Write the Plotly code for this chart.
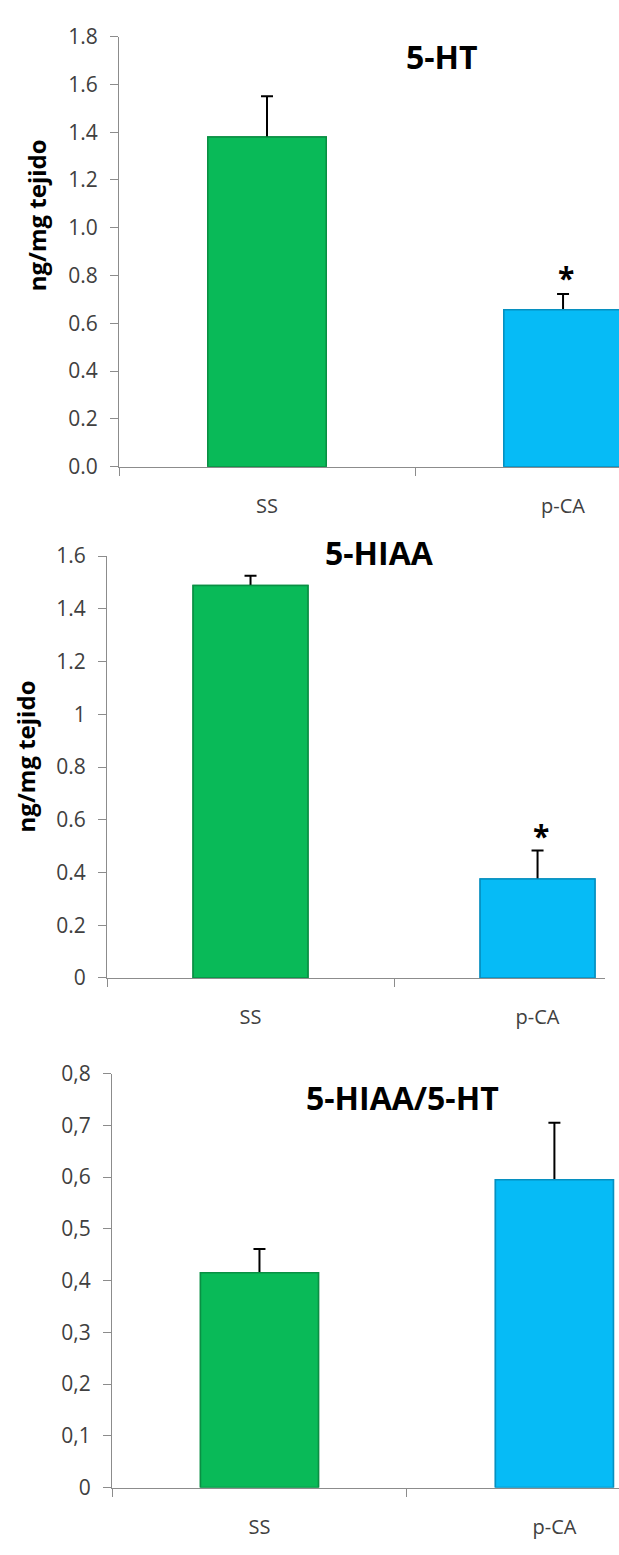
import plotly.graph_objects as go

# Group labels
categories = ["SS", "p-CA"]

# 5-HT content (ng/mg tejido): mean and upper SEM
ht_mean = [1.38, 0.657]
ht_err = [0.17, 0.066]

# 5-HIAA content (ng/mg tejido)
hiaa_mean = [1.488, 0.375]
hiaa_err = [0.037, 0.108]

# 5-HIAA/5-HT ratio
ratio_mean = [0.415, 0.595]
ratio_err = [0.046, 0.11]

# Significance marks per group (empty = none)
ht_sig = ["", "*"]
hiaa_sig = ["", "*"]
ratio_sig = ["", ""]

# Y tick values
ht_ticks = [0.0, 0.2, 0.4, 0.6, 0.8, 1.0, 1.2, 1.4, 1.6, 1.8]
hiaa_ticks = [0, 0.2, 0.4, 0.6, 0.8, 1, 1.2, 1.4, 1.6]
ratio_ticks = [0, 0.1, 0.2, 0.3, 0.4, 0.5, 0.6, 0.7, 0.8]

W, H = 619, 1555
GREEN = "#09BA58"
BLUE = "#06BBF6"
GREEN_EDGE = "#0A8F43"
BLUE_EDGE = "#0690C0"
AXIS_GREY = "#8C8C8C"
FONT = "Open Sans"
TICK_FONT = dict(family=FONT, size=21, color="#404040")

panels = [
    dict(mean=ht_mean, err=ht_err, sig=ht_sig, ticks=ht_ticks,
         ticktext=[f"{v:.1f}" for v in ht_ticks],
         left=119, right=619, top=22, bottom=460, xmax=1.189,
         title="5-HT", tx=442, ty=42, ylab="ng/mg tejido", lx=36, ly=204,
         sigshift=0),
    dict(mean=hiaa_mean, err=hiaa_err, sig=hiaa_sig, ticks=hiaa_ticks,
         ticktext=[f"{v:g}" for v in hiaa_ticks],
         left=107, right=605, top=551, bottom=980.6, xmax=1.235,
         title="5-HIAA", tx=380, ty=547, ylab="ng/mg tejido", lx=25, ly=755,
         sigshift=-1),
    dict(mean=ratio_mean, err=ratio_err, sig=ratio_sig, ticks=ratio_ticks,
         ticktext=[f"{v:g}".replace(".", ",") for v in ratio_ticks],
         left=112, right=619, top=1078, bottom=1499.6, xmax=1.219,
         title="5-HIAA/5-HT", tx=402, ty=1102, ylab=None, lx=0, ly=0,
         sigshift=0),
]

fig = go.Figure()
annotations = []

for i, p in enumerate(panels, start=1):
    xa = "x" if i == 1 else f"x{i}"
    ya = "y" if i == 1 else f"y{i}"
    bar_style = dict(
        x=categories, y=p["mean"], width=0.4,
        marker=dict(color=[GREEN, BLUE],
                    line=dict(color=[GREEN_EDGE, BLUE_EDGE], width=1.5)),
        xaxis=xa, yaxis=ya, showlegend=False, hoverinfo="skip",
    )
    # bars carrying the SEM whiskers
    fig.add_trace(go.Bar(
        **bar_style,
        error_y=dict(type="data", array=p["err"], color="black",
                     thickness=2, width=6),
    ))
    # same bars again on top, so only the upper whisker shows
    fig.add_trace(go.Bar(**bar_style))

    ymax = p["ticks"][-1]
    xdom = [p["left"] / W, p["right"] / W]
    ydom = [1 - p["bottom"] / H, 1 - p["top"] / H]
    xkey = "xaxis" if i == 1 else f"xaxis{i}"
    ykey = "yaxis" if i == 1 else f"yaxis{i}"
    fig.update_layout(**{
        xkey: dict(domain=xdom, anchor=ya, type="category",
                   range=[-0.5, p["xmax"]], tickson="boundaries",
                   ticks="outside", ticklen=8, tickcolor=AXIS_GREY,
                   showline=True, linecolor=AXIS_GREY, linewidth=1,
                   showgrid=False, zeroline=False,
                   tickfont=dict(family=FONT, size=20, color="#404040"),
                   ticklabelstandoff=21),
        ykey: dict(domain=ydom, anchor=xa, range=[0, ymax],
                   tickmode="array", tickvals=p["ticks"], ticktext=p["ticktext"],
                   ticks="outside", ticklen=8, tickcolor=AXIS_GREY,
                   showline=True, linecolor=AXIS_GREY, linewidth=1,
                   showgrid=False, zeroline=False, tickfont=TICK_FONT,
                   ticklabelstandoff=8),
    })
    # panel title
    annotations.append(dict(
        text=f"<b>{p['title']}</b>", x=p["tx"] / W, y=1 - p["ty"] / H,
        xref="paper", yref="paper", showarrow=False,
        xanchor="center", yanchor="middle",
        font=dict(family=FONT, size=32, color="black")))
    # y axis label
    if p["ylab"]:
        annotations.append(dict(
            text=f"<b>{p['ylab']}</b>", x=p["lx"] / W, y=1 - p["ly"] / H,
            xref="paper", yref="paper", showarrow=False, textangle=-90,
            xanchor="center", yanchor="middle",
            font=dict(family=FONT, size=24, color="black")))
    # significance marks above error bars
    for cat, m, e, s in zip(categories, p["mean"], p["err"], p["sig"]):
        if s:
            annotations.append(dict(
                text=f"<b>{s}</b>", x=cat, y=m + e, xref=xa, yref=ya,
                showarrow=False, xanchor="center", yanchor="bottom",
                yshift=-6 + p["sigshift"], xshift=3,
                font=dict(family=FONT, size=30, color="black")))

fig.update_layout(
    width=W, height=H, margin=dict(l=0, r=0, t=0, b=0),
    paper_bgcolor="white", plot_bgcolor="white",
    barmode="overlay", annotations=annotations,
)

fig.write_html("out.html")
